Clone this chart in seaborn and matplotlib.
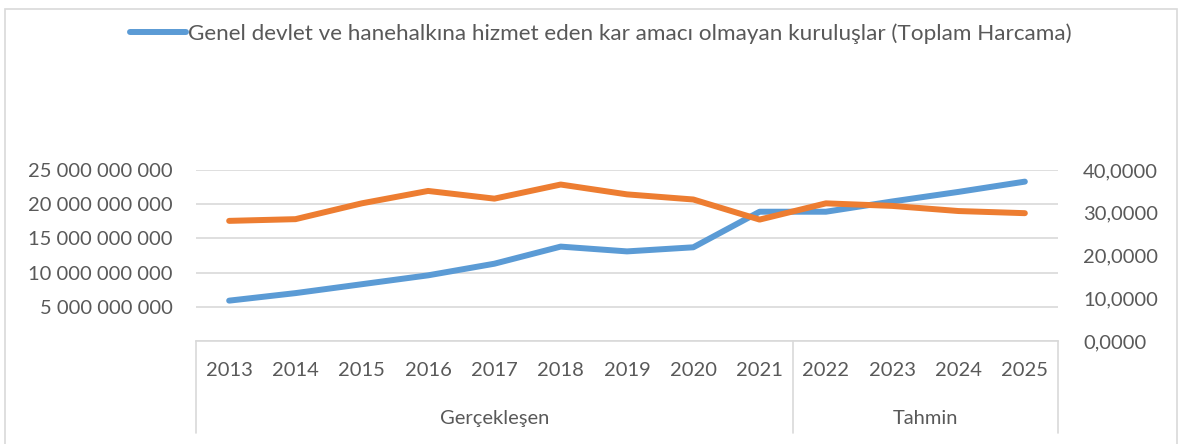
import matplotlib
matplotlib.use("Agg")
import matplotlib.pyplot as plt
import matplotlib.transforms as mtransforms
from matplotlib.patches import Rectangle
import seaborn as sns
import pandas as pd

# ---- data ----
years = ["2013", "2014", "2015", "2016", "2017", "2018", "2019",
         "2020", "2021", "2022", "2023", "2024", "2025"]
spending = [5.9e9, 7.0e9, 8.3e9, 9.6e9, 11.3e9, 13.8e9, 13.1e9,
            13.7e9, 18.9e9, 18.9e9, 20.4e9, 21.8e9, 23.3e9]
ratio = [28.1, 28.5, 32.2, 35.1, 33.3, 36.6, 34.3,
         33.1, 28.4, 32.2, 31.6, 30.4, 29.9]
left_ticks = [0, 5e9, 10e9, 15e9, 20e9, 25e9]
right_ticks = [0, 10, 20, 30, 40]
groups = ["Gerçekleşen", "Tahmin"]
group_sizes = [9, 4]
legend_label = "Genel devlet ve hanehalkına hizmet eden kar amacı olmayan kuruluşlar (Toplam Harcama)"

df = pd.DataFrame({"year": years, "spending": spending, "ratio": ratio})

sns.set_theme(style="white")
plt.rcParams["font.family"] = ["Lato", "DejaVu Sans"]

TEXT = "#595959"
GRID = "#D9D9D9"
BLUE = "#5B9BD5"
ORANGE = "#ED7D31"
FS = 14.5

W, H = 1178, 444
fig = plt.figure(figsize=(W / 100, H / 100), dpi=100)
fig.patch.set_facecolor("white")

# chart frame
fig.patches.append(Rectangle((5 / W, -0.05), (1177 - 5) / W, 1.05 - 9 / H,
                             transform=fig.transFigure, fill=False,
                             edgecolor=GRID, linewidth=1.2))

x0, x1 = 196, 1058
y_top, y_bot = 170, 341
ax = fig.add_axes([x0 / W, 1 - y_bot / H, (x1 - x0) / W, (y_bot - y_top) / H])

sns.lineplot(data=df, x="year", y="spending", ax=ax, color=BLUE,
             linewidth=4.3, sort=False, label=legend_label, legend=False)
ax2 = ax.twinx()
sns.lineplot(data=df, x="year", y="ratio", ax=ax2, color=ORANGE,
             linewidth=4.3, sort=False, legend=False)

ax.set_xlim(-0.5, len(years) - 0.5)
ax.set_ylim(0, 25e9)
ax2.set_ylim(0, 40)

ax.set_yticks(left_ticks)
ax.set_yticklabels(["" if v == 0 else f"{int(v):,}".replace(",", " ") for v in left_ticks])
ax2.set_yticks(right_ticks)
ax2.set_yticklabels([f"{v:.4f}".replace(".", ",") for v in right_ticks])

ax.grid(axis="y", color=GRID, linewidth=1.2)
ax.grid(axis="x", visible=False)
ax.set_axisbelow(True)
for a in (ax, ax2):
    for s in a.spines.values():
        s.set_visible(False)
    a.set_xlabel("")
    a.set_ylabel("")
ax.spines["bottom"].set_visible(True)
ax.spines["bottom"].set_color(GRID)
ax.spines["bottom"].set_linewidth(1.2)

ax.tick_params(axis="y", length=0, pad=17, labelsize=FS, labelcolor=TEXT)
ax2.tick_params(axis="y", length=0, pad=18, labelsize=FS, labelcolor=TEXT)
ax.tick_params(axis="x", length=0, pad=15, labelsize=FS, labelcolor=TEXT)

# multi-level category box
trans = mtransforms.blended_transform_factory(ax.transData, ax.transAxes)
ybot_axes = -(433 - y_bot) / (y_bot - y_top)
bounds = [-0.5]
for n in group_sizes:
    bounds.append(bounds[-1] + n)
for b in bounds:
    ax.plot([b, b], [0, ybot_axes], transform=trans, color=GRID,
            linewidth=1.2, clip_on=False)
ygrp = -(418 - y_bot) / (y_bot - y_top)
for g, a, b in zip(groups, bounds[:-1], bounds[1:]):
    ax.text((a + b) / 2, ygrp, g, transform=trans, ha="center", va="center",
            fontsize=FS, color=TEXT)

# legend (only first series)
h, l = ax.get_legend_handles_labels()
fig.legend(h, l, loc="center", bbox_to_anchor=(601 / W, 1 - 34 / H),
           frameon=False, fontsize=16.2, labelcolor=TEXT,
           handlelength=2.5, handletextpad=0.1)

fig.savefig("out.png", dpi=100)
